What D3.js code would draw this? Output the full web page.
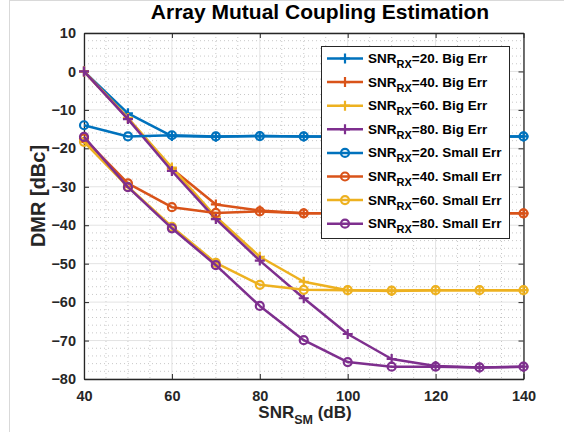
<!DOCTYPE html>
<html><head><meta charset="utf-8">
<script src="https://cdn.jsdelivr.net/npm/d3@7"></script>
<style>body{margin:0;background:#fff}svg{display:block}text{font-family:"Liberation Sans",Arial,Helvetica,sans-serif}</style>
</head><body><svg id="c" width="564" height="432"></svg>
<script>
const snrSM = [40,50,60,70,80,90,100,110,120,130,140];
const seriesNames = ["=20. Big Err","=40. Big Err","=60. Big Err","=80. Big Err","=20. Small Err","=40. Small Err","=60. Small Err","=80. Small Err"];
const colors = ["#0072BD","#D95319","#EDB120","#7E2F8E","#0072BD","#D95319","#EDB120","#7E2F8E"];
const markers = ["plus","plus","plus","plus","circle","circle","circle","circle"];
const big20   = [0,-10.9,-16.8,-17,-16.8,-16.9,-17,-16.9,-17,-16.9,-16.9];
const big40   = [0,-12.2,-25.3,-34.6,-36.2,-36.9,-36.9,-36.9,-36.9,-36.9,-36.9];
const big60   = [0,-12.1,-25.0,-37.8,-48.2,-54.7,-56.9,-57.1,-56.9,-56.9,-56.9];
const big80   = [0,-12.4,-25.9,-38.4,-49.2,-59.0,-68.3,-74.8,-76.6,-77.0,-76.8];
const small20 = [-14.0,-16.9,-16.6,-16.9,-16.8,-16.9,-16.9,-16.9,-16.9,-16.9,-16.9];
const small40 = [-17.4,-29.1,-35.3,-36.8,-36.4,-36.9,-36.9,-36.9,-36.9,-36.9,-36.9];
const small60 = [-18.3,-30.0,-40.4,-49.8,-55.5,-56.8,-56.9,-57.0,-56.9,-56.9,-56.9];
const small80 = [-17.0,-30.1,-40.8,-50.4,-61.0,-69.9,-75.6,-76.8,-76.8,-77.0,-76.8];
const seriesValues = [big20,big40,big60,big80,small20,small40,small60,small80];
const xTicks = [40,60,80,100,120,140];
const yTicks = [10,0,-10,-20,-30,-40,-50,-60,-70,-80];

const svg = d3.select("#c");
const L=84,R=523.5,T=33,B=379;
const x = d3.scaleLinear().domain([40,140]).range([L,R]);
const y = d3.scaleLinear().domain([-80,10]).range([B,T]);

// figure frame lines
svg.append("line").attr("x1",9.5).attr("x2",9.5).attr("y1",0).attr("y2",432).attr("stroke","#d9d9d9");
svg.append("line").attr("x1",9.5).attr("x2",564).attr("y1",0.5).attr("y2",0.5).attr("stroke","#d9d9d9");

// minor grid
const g = svg.append("g");
d3.range(40,141,5).filter(v=>v%20!==0).forEach(v=>{
  g.append("line").attr("x1",x(v)).attr("x2",x(v)).attr("y1",T).attr("y2",B)
   .attr("stroke","#c8c8c8").attr("stroke-width",1).attr("stroke-dasharray","1,3");
});
d3.range(-80,11,2).filter(v=>v%10!==0).forEach(v=>{
  g.append("line").attr("x1",L).attr("x2",R).attr("y1",y(v)).attr("y2",y(v))
   .attr("stroke","#c8c8c8").attr("stroke-width",1).attr("stroke-dasharray","1,3");
});
// major grid
xTicks.forEach(v=>g.append("line").attr("x1",x(v)).attr("x2",x(v)).attr("y1",T).attr("y2",B).attr("stroke","#e3e3e3"));
yTicks.forEach(v=>g.append("line").attr("x1",L).attr("x2",R).attr("y1",y(v)).attr("y2",y(v)).attr("stroke","#e3e3e3"));

// axes
const ax = d3.axisBottom(x).tickValues(xTicks).tickSizeInner(-5).tickSizeOuter(0).tickPadding(12);
const ay = d3.axisLeft(y).tickValues(yTicks).tickSizeInner(-5).tickSizeOuter(0).tickPadding(8);
const gx = svg.append("g").attr("transform",`translate(0,${B})`).call(ax);
const gy = svg.append("g").attr("transform",`translate(${L},0)`).call(ay);
const gx2 = svg.append("g").attr("transform",`translate(0,${T})`).call(d3.axisTop(x).tickValues(xTicks).tickSizeInner(-5).tickSizeOuter(0).tickFormat(""));
const gy2 = svg.append("g").attr("transform",`translate(${R},0)`).call(d3.axisRight(y).tickValues(yTicks).tickSizeInner(-5).tickSizeOuter(0).tickFormat(""));
[gx,gy,gx2,gy2].forEach(a=>{
  a.select(".domain").attr("stroke","#262626").attr("stroke-width",1.3);
  a.selectAll(".tick line").attr("stroke","#262626");
  a.selectAll("text").attr("fill","#262626").style("font-size","14.5px").style("font-weight","bold");
});

// series
const line = d3.line().x((d,i)=>x(snrSM[i])).y(d=>y(d));
function drawMarker(sel, type, cx, cy, color){
  if(type==="plus"){
    sel.append("path").attr("d",`M${cx-5},${cy}H${cx+5}M${cx},${cy-5}V${cy+5}`)
      .attr("stroke",color).attr("stroke-width",2.2).attr("fill","none");
  } else {
    sel.append("circle").attr("cx",cx).attr("cy",cy).attr("r",4)
      .attr("stroke",color).attr("stroke-width",2.2).attr("fill","none");
  }
}
seriesValues.forEach((vals,k)=>{
  const s = svg.append("g");
  s.append("path").datum(vals).attr("d",line).attr("fill","none")
   .attr("stroke",colors[k]).attr("stroke-width",2.5).attr("stroke-linejoin","round");
  vals.forEach((v,i)=>drawMarker(s,markers[k],x(snrSM[i]),y(v),colors[k]));
});

// legend
const lg = svg.append("g");
lg.append("rect").attr("x",321.5).attr("y",46.5).attr("width",188).attr("height",192)
  .attr("fill","#fff").attr("stroke","#262626").attr("stroke-width",1);
seriesNames.forEach((nm,k)=>{
  const yy = 58.5 + k*23.6;
  lg.append("line").attr("x1",327).attr("x2",363).attr("y1",yy).attr("y2",yy)
    .attr("stroke",colors[k]).attr("stroke-width",2.5);
  drawMarker(lg,markers[k],345,yy,colors[k]);
  const t = lg.append("text").attr("x",368).attr("y",yy+4.5).attr("fill","#000")
    .style("font-size","13.5px").style("font-weight","bold");
  t.append("tspan").text("SNR");
  t.append("tspan").attr("dy",5).style("font-size","11px").text("RX");
  t.append("tspan").attr("dy",-5).text(nm);
});

// title and labels
svg.append("text").attr("x",320).attr("y",18.5).attr("text-anchor","middle")
  .style("font-size","21px").style("font-weight","bold").attr("fill","#000")
  .text("Array Mutual Coupling Estimation");
const xl = svg.append("text").attr("x",305).attr("y",418).attr("text-anchor","middle")
  .style("font-size","17px").style("font-weight","bold").attr("fill","#262626");
xl.append("tspan").text("SNR");
xl.append("tspan").attr("dy",6).style("font-size","12.5px").text("SM");
xl.append("tspan").attr("dy",-6).text(" (dB)");
svg.append("text").attr("transform","translate(45,196) rotate(-90)").attr("text-anchor","middle")
  .style("font-size","20px").style("font-weight","bold").attr("fill","#262626")
  .text("DMR [dBc]");
</script></body></html>
